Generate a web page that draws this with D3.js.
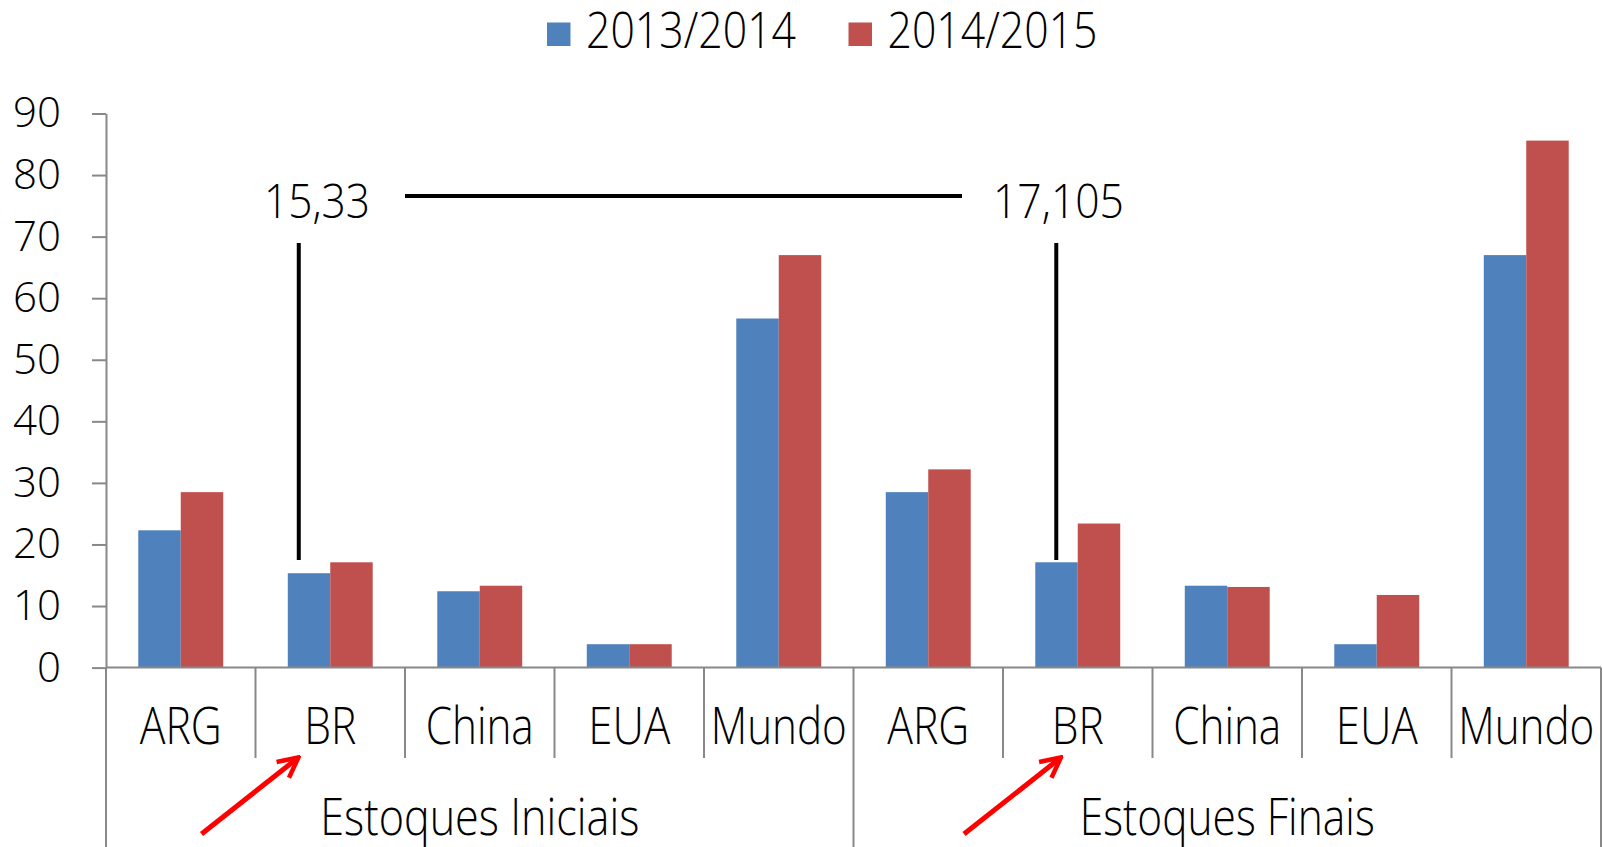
<!DOCTYPE html>
<meta charset="utf-8">
<html>
<script src="https://d3js.org/d3.v7.min.js"></script>
<style>
  body { margin: 0; background: #fff; }
  text { font-family: "Open Sans", "Liberation Sans", sans-serif; font-weight: 300; fill: #000; }
</style>
<div id="chart"></div>
<script>

// data
var categories = ["ARG", "BR", "China", "EUA", "Mundo"];
var groups = ["Estoques Iniciais", "Estoques Finais"];
var seriesNames = ["2013/2014", "2014/2015"];
var values1314 = [22.3, 15.33, 12.4, 3.8, 56.7, 28.5, 17.105, 13.3, 3.8, 67.0];
var values1415 = [28.5, 17.105, 13.3, 3.8, 67.0, 32.2, 23.4, 13.1, 11.8, 85.6];
var yTicks = [0, 10, 20, 30, 40, 50, 60, 70, 80, 90];
var notes = [{label: "15,33", at: 1}, {label: "17,105", at: 6}];

var width = 1603,
    height = 847;
var plotLeft = 106, plotRight = 1601, plotTop = 113.5, plotBottom = 667.6;
var colors = ["#4F81BD", "#C0504D"];
var axisColor = "#888888";

var svg = d3.select("#chart").append("svg")
    .attr("width", width)
    .attr("height", height);

// one row per bar position: group + category
var rows = [];
groups.forEach(function(g, gi) {
  categories.forEach(function(c, ci) {
    var i = gi * categories.length + ci;
    rows.push({key: i, group: g, cat: c, v: [values1314[i], values1415[i]]});
  });
});

var x0 = d3.scaleBand()
  .domain(rows.map(function(d) { return d.key; }))
  .range([plotLeft, plotRight]);

var x1 = d3.scaleBand()
  .domain([0, 1])
  .range([0, x0.bandwidth()])
  .paddingOuter(0.76);

var y = d3.scaleLinear()
  .domain([0, 90])
  .range([plotBottom, plotTop]);

// bars
var g = svg.selectAll("g.cat")
  .data(rows)
  .enter().append("g")
    .attr("class", "cat")
    .attr("transform", function(d) { return "translate(" + x0(d.key) + ",0)"; });

g.selectAll("rect")
  .data(function(d) { return d.v; })
  .enter().append("rect")
    .attr("x", function(d, i) { return x1(i); })
    .attr("y", function(d) { return y(d); })
    .attr("width", x1.bandwidth())
    .attr("height", function(d) { return y(0) - y(d); })
    .attr("fill", function(d, i) { return colors[i]; });

// y axis
var yAxis = svg.append("g")
  .attr("transform", "translate(" + plotLeft + ",0)")
  .call(d3.axisLeft(y).tickValues(yTicks).tickSize(14).tickSizeOuter(0).tickPadding(31));
yAxis.select(".domain").attr("stroke", axisColor).attr("stroke-width", 2);
yAxis.selectAll(".tick line").attr("stroke", axisColor).attr("stroke-width", 2);
yAxis.selectAll(".tick text")
  .style("font-family", "'Open Sans', sans-serif")
  .style("font-weight", 300)
  .style("font-size", "42px")
  .attr("fill", "#000");

// x axis line
svg.append("line")
  .attr("x1", plotLeft).attr("x2", plotRight)
  .attr("y1", y(0)).attr("y2", y(0))
  .attr("stroke", axisColor).attr("stroke-width", 2);

// category dividers
var divs = d3.range(rows.length + 1);
svg.selectAll("line.div")
  .data(divs)
  .enter().append("line")
    .attr("class", "div")
    .attr("x1", function(d) { return d < rows.length ? x0(d) : plotRight; })
    .attr("x2", function(d) { return d < rows.length ? x0(d) : plotRight; })
    .attr("y1", y(0))
    .attr("y2", function(d) { return d % categories.length == 0 ? height : 758; })
    .attr("stroke", axisColor).attr("stroke-width", 2);

// category labels
svg.selectAll("text.catlab")
  .data(rows)
  .enter().append("text")
    .attr("class", "catlab")
    .attr("x", function(d) { return x0(d.key) + x0.bandwidth() / 2; })
    .attr("y", 744)
    .attr("text-anchor", "middle")
    .style("font-size", "51px")
    .attr("textLength", function(d) { return {ARG: 82, BR: 52, China: 108, EUA: 82, Mundo: 136}[d.cat]; })
    .attr("lengthAdjust", "spacingAndGlyphs")
    .text(function(d) { return d.cat; });

// group labels
svg.selectAll("text.grp")
  .data(groups)
  .enter().append("text")
    .attr("class", "grp")
    .attr("x", function(d, i) {
      var a = x0(i * categories.length);
      var b = i == groups.length - 1 ? plotRight : x0((i + 1) * categories.length);
      return (a + b) / 2;
    })
    .attr("y", 835)
    .attr("text-anchor", "middle")
    .style("font-size", "51px")
    .attr("textLength", function(d, i) { return i == 0 ? 319 : 295; })
    .attr("lengthAdjust", "spacingAndGlyphs")
    .text(function(d) { return d; });

// legend
var legend = svg.selectAll("g.legend")
  .data(seriesNames)
  .enter().append("g")
    .attr("class", "legend")
    .attr("transform", function(d, i) { return "translate(" + (547 + i * 301.5) + ",0)"; });
legend.append("rect")
  .attr("x", 0).attr("y", 22.5)
  .attr("width", 23.5).attr("height", 23.5)
  .attr("fill", function(d, i) { return colors[i]; });
legend.append("text")
  .attr("x", 39).attr("y", 48)
  .style("font-size", "49px")
  .attr("textLength", 210)
  .attr("lengthAdjust", "spacingAndGlyphs")
  .text(function(d) { return d; });

// annotations: values over BR bars
var noteOffset = [11, 21];
var noteX = function(d, i) { return x0(d.at) + x1(0) + noteOffset[i]; };
svg.selectAll("line.note")
  .data(notes)
  .enter().append("line")
    .attr("class", "note")
    .attr("x1", noteX).attr("x2", noteX)
    .attr("y1", 243).attr("y2", 560)
    .attr("stroke", "#000").attr("stroke-width", 4);
svg.selectAll("text.note")
  .data(notes)
  .enter().append("text")
    .attr("class", "note")
    .attr("x", function(d, i) { return i == 0 ? 264 : 993; })
    .attr("y", 218)
    .style("font-size", "47px")
    .attr("textLength", function(d, i) { return i == 0 ? 106 : 131; })
    .attr("lengthAdjust", "spacingAndGlyphs")
    .text(function(d) { return d.label; });
svg.append("line")
  .attr("x1", 405).attr("x2", 962)
  .attr("y1", 196).attr("y2", 196)
  .attr("stroke", "#000").attr("stroke-width", 4);

// red arrows pointing at BR
svg.append("defs").append("marker")
  .attr("id", "head")
  .attr("viewBox", "0 0 10 10")
  .attr("refX", 8).attr("refY", 5)
  .attr("markerWidth", 5).attr("markerHeight", 5)
  .attr("orient", "auto")
  .append("path")
    .attr("d", "M1,1 L9,5 L1,9")
    .attr("fill", "none").attr("stroke", "#FF0000").attr("stroke-width", 1.8);

var arrowStart = [-54, -39], arrowEnd = [41, 56];
svg.selectAll("line.arrow")
  .data(notes)
  .enter().append("line")
    .attr("class", "arrow")
    .attr("x1", function(d, i) { return x0(d.at) + arrowStart[i]; })
    .attr("y1", 834)
    .attr("x2", function(d, i) { return x0(d.at) + arrowEnd[i]; })
    .attr("y2", 759)
    .attr("stroke", "#FF0000").attr("stroke-width", 5)
    .attr("marker-end", "url(#head)");

</script>
</html>
